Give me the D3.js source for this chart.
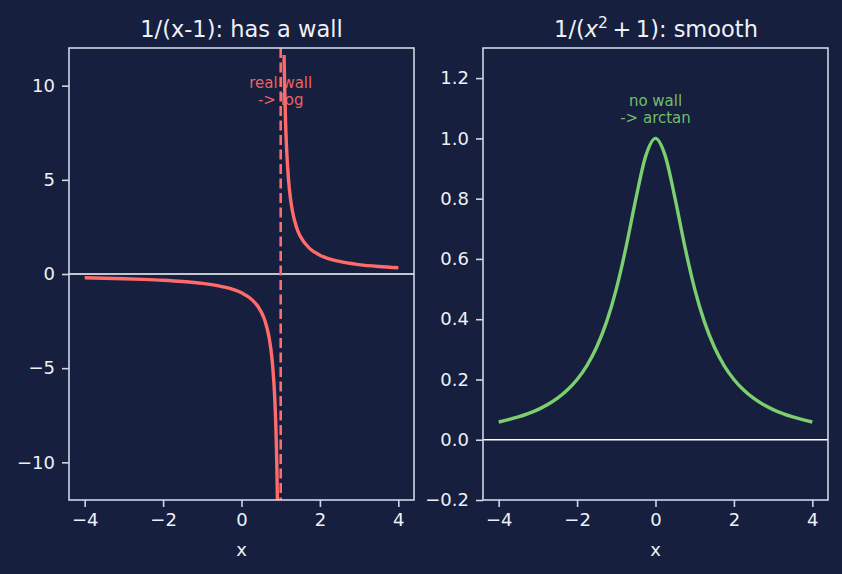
<!DOCTYPE html>
<html><head><meta charset="utf-8">
<script src="https://cdn.jsdelivr.net/npm/d3@7"></script>
<style>
html,body{margin:0;padding:0;background:#161f3e;}
svg{display:block;font-family:"DejaVu Sans",sans-serif;}
</style></head>
<body>
<svg id="c" width="842" height="574"></svg>
<script>
// ---- data ----
const wallLeftX  = [-4, -3.5, -3, -2.5, -2, -1.5, -1, -0.5, 0, 0.25, 0.5, 0.6, 0.7, 0.75, 0.8, 0.85, 0.88, 0.9, 0.92, 0.94, 0.96];
const wallLeftY  = [-0.2, -0.222, -0.25, -0.286, -0.333, -0.4, -0.5, -0.667, -1, -1.333, -2, -2.5, -3.333, -4, -5, -6.667, -8.333, -10, -12.5, -16.7, -25];
const wallRightX = [1.086, 1.1, 1.125, 1.15, 1.2, 1.25, 1.3, 1.4, 1.5, 1.75, 2, 2.5, 3, 3.5, 4];
const wallRightY = [11.63, 10, 8, 6.667, 5, 4, 3.333, 2.5, 2, 1.333, 1, 0.667, 0.5, 0.4, 0.333];
const wallX = 1;
const smoothX = [-4, -3.75, -3.5, -3.25, -3, -2.75, -2.5, -2.25, -2, -1.75, -1.5, -1.25, -1, -0.75, -0.5, -0.25, 0,
                 0.25, 0.5, 0.75, 1, 1.25, 1.5, 1.75, 2, 2.25, 2.5, 2.75, 3, 3.25, 3.5, 3.75, 4];
const smoothY = [0.0588, 0.0664, 0.0755, 0.0865, 0.1, 0.1168, 0.1379, 0.1649, 0.2, 0.2462, 0.3077, 0.3902, 0.5, 0.64, 0.8, 0.9412, 1,
                 0.9412, 0.8, 0.64, 0.5, 0.3902, 0.3077, 0.2462, 0.2, 0.1649, 0.1379, 0.1168, 0.1, 0.0865, 0.0755, 0.0664, 0.0588];
const xTicks = [-4, -2, 0, 2, 4];
const leftYTicks = [-10, -5, 0, 5, 10];
const rightYTicks = [-0.2, 0.0, 0.2, 0.4, 0.6, 0.8, 1.0, 1.2];
const leftTitle = "1/(x-1): has a wall";
const leftNote = ["real wall", "-> log"];
const rightNote = ["no wall", "-> arctan"];

// ---- style ----
const BG = "#161f3e", SPINE = "#cfd6e6", TXT = "#eef1f8";
const RED = "#ff6b6b", GREEN = "#7ccf6e";
const svg = d3.select("#c");
svg.append("rect").attr("width", 842).attr("height", 574).attr("fill", BG);

const fmtMinus = s => s.replace("-", "\u2212");

function panel(x0, x1, y0, y1, xDom, yDom, yTicks, yFmt, id) {
  const x = d3.scaleLinear().domain(xDom).range([x0, x1]);
  const y = d3.scaleLinear().domain(yDom).range([y1, y0]);
  const g = svg.append("g");
  svg.append("clipPath").attr("id", id).append("rect")
    .attr("x", x0).attr("y", y0).attr("width", x1 - x0).attr("height", y1 - y0);
  const plot = g.append("g").attr("clip-path", `url(#${id})`);
  const ax = g.append("g").attr("transform", `translate(0,${y1})`)
    .call(d3.axisBottom(x).tickValues(xTicks).tickFormat(d => fmtMinus(d3.format("d")(d))).tickSize(7).tickPadding(6));
  const ay = g.append("g").attr("transform", `translate(${x0},0)`)
    .call(d3.axisLeft(y).tickValues(yTicks).tickFormat(d => fmtMinus(yFmt(d))).tickSize(7).tickPadding(7));
  [ax, ay].forEach(a => {
    a.select(".domain").remove();
    a.selectAll("line").attr("stroke", SPINE).attr("stroke-width", 1.6);
    a.selectAll("text").attr("fill", TXT).attr("font-size", 18).attr("font-family", "DejaVu Sans");
  });
  ax.selectAll("text").attr("dy", "0.71em");
  g.append("rect").attr("x", x0).attr("y", y0).attr("width", x1 - x0).attr("height", y1 - y0)
    .attr("fill", "none").attr("stroke", SPINE).attr("stroke-width", 1.6);
  g.append("text").attr("x", (x0 + x1) / 2).attr("y", 556).attr("text-anchor", "middle")
    .attr("fill", TXT).attr("font-size", 18).text("x");
  return {x, y, g, plot};
}

const line = (xs, ys, sx, sy) => d3.line().curve(d3.curveMonotoneX).x((d, i) => sx(xs[i])).y(d => sy(d))(ys);

// ---- left panel ----
const L = panel(69, 414, 48, 500, [-4.4, 4.4], [-12, 12], leftYTicks, d3.format("d"), "clipL");
L.plot.append("line").attr("x1", 69).attr("x2", 414).attr("y1", L.y(0)).attr("y2", L.y(0))
  .attr("stroke", "#ffffff").attr("stroke-width", 1.3);
L.plot.append("path").attr("d", line(wallLeftX, wallLeftY, L.x, L.y))
  .attr("fill", "none").attr("stroke", RED).attr("stroke-width", 3.4);
L.plot.append("path").attr("d", line(wallRightX, wallRightY, L.x, L.y))
  .attr("fill", "none").attr("stroke", RED).attr("stroke-width", 3.4);
L.plot.append("line").attr("x1", L.x(wallX)).attr("x2", L.x(wallX)).attr("y1", L.y(12)).attr("y2", L.y(-12))
  .attr("stroke", RED).attr("stroke-width", 2.6).attr("stroke-dasharray", "10,4.5");
const ln = L.g.append("text").attr("text-anchor", "middle").attr("fill", RED).attr("opacity", 0.9).attr("font-size", 15);
ln.append("tspan").attr("x", L.x(wallX)).attr("y", L.y(9) - 17).text(leftNote[0]);
ln.append("tspan").attr("x", L.x(wallX)).attr("y", L.y(9)).text(leftNote[1]);
L.g.append("text").attr("x", 241.5).attr("y", 37).attr("text-anchor", "middle")
  .attr("fill", TXT).attr("font-size", 22.5).text(leftTitle);

// ---- right panel ----
const R = panel(483, 828, 48, 500, [-4.4, 4.4], [-0.2, 1.3], rightYTicks, d3.format(".1f"), "clipR");
R.plot.append("line").attr("x1", 483).attr("x2", 828).attr("y1", R.y(0)).attr("y2", R.y(0))
  .attr("stroke", "#ffffff").attr("stroke-width", 1.3);
R.plot.append("path").attr("d", line(smoothX, smoothY, R.x, R.y))
  .attr("fill", "none").attr("stroke", GREEN).attr("stroke-width", 3.4);
const rn = R.g.append("text").attr("text-anchor", "middle").attr("fill", GREEN).attr("opacity", 0.9).attr("font-size", 15);
rn.append("tspan").attr("x", R.x(0)).attr("y", R.y(1.05) - 17).text(rightNote[0]);
rn.append("tspan").attr("x", R.x(0)).attr("y", R.y(1.05)).text(rightNote[1]);
const rt = R.g.append("text").attr("x", 656).attr("y", 37).attr("text-anchor", "middle")
  .attr("fill", TXT).attr("font-size", 22.5);
rt.append("tspan").text("1/(");
rt.append("tspan").attr("font-style", "italic").text("x");
rt.append("tspan").attr("font-size", 15.5).attr("dy", -9).text("2");
rt.append("tspan").attr("dy", 9).text("\u2009+\u20091): smooth");
</script>
</body></html>
